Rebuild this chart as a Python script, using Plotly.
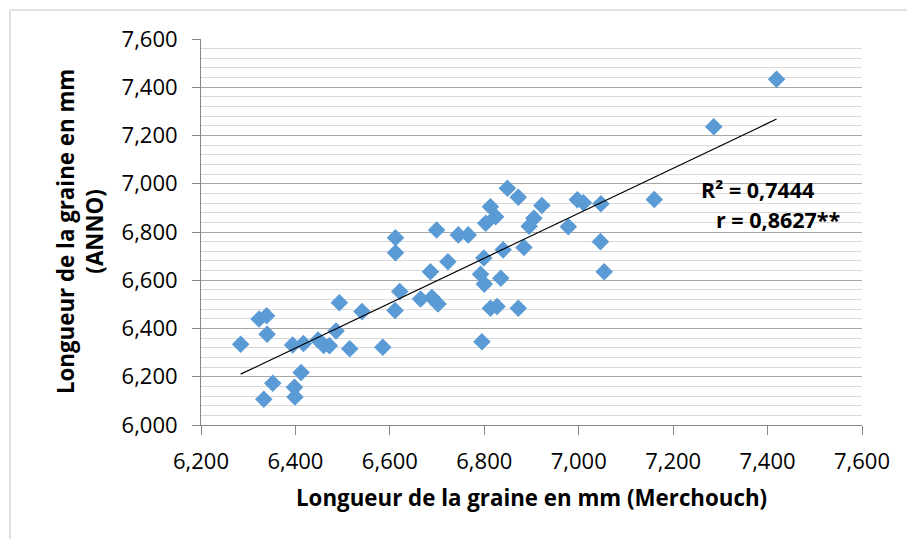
import numpy as np
import plotly.graph_objects as go

# Seed length (mm) measured at the two sites
merchouch = [
    6.284, 6.323, 6.339, 6.340, 6.333, 6.352, 6.398, 6.399, 6.412, 6.394,
    6.417, 6.448, 6.460, 6.472, 6.486, 6.493, 6.515, 6.541, 6.585, 6.611,
    6.621, 6.612, 6.612, 6.699, 6.723, 6.686, 6.745, 6.766, 6.665, 6.689,
    6.702, 6.795, 6.799, 6.792, 6.800, 6.835, 6.813, 6.827, 6.872, 6.840,
    6.884, 6.803, 6.824, 6.813, 6.849, 6.872, 6.895, 6.905, 6.922, 6.978,
    6.997, 7.010, 7.047, 7.046, 7.054, 7.160, 7.286, 7.419,
]
anno = [
    6.335, 6.439, 6.453, 6.376, 6.107, 6.173, 6.156, 6.116, 6.218, 6.332,
    6.338, 6.352, 6.330, 6.329, 6.390, 6.507, 6.316, 6.470, 6.322, 6.475,
    6.553, 6.776, 6.714, 6.808, 6.677, 6.635, 6.788, 6.788, 6.522, 6.528,
    6.502, 6.345, 6.692, 6.625, 6.584, 6.608, 6.484, 6.491, 6.484, 6.726,
    6.736, 6.836, 6.863, 6.905, 6.981, 6.944, 6.824, 6.857, 6.910, 6.822,
    6.934, 6.921, 6.917, 6.760, 6.635, 6.935, 7.236, 7.433,
]

r2_label = "R² = 0,7444"
r_label = "r = 0,8627**"

x_ticks = [6.2, 6.4, 6.6, 6.8, 7.0, 7.2, 7.4, 7.6]
y_ticks = [6.0, 6.2, 6.4, 6.6, 6.8, 7.0, 7.2, 7.4, 7.6]

x = np.array(merchouch)
y = np.array(anno)

# Least-squares linear trend
slope, intercept = np.polyfit(x, y, 1)
trend_x = np.array([x.min(), x.max()])
trend_y = intercept + slope * trend_x

FONT = "Open Sans"


def fmt(v):
    # Axis numbers printed with a comma and three decimals: 6.2 -> "6,200"
    m = int(round(v * 1000))
    return f"{m // 1000},{m % 1000:03d}"


fig = go.Figure()
fig.add_trace(go.Scatter(
    x=merchouch, y=anno, mode="markers",
    marker=dict(symbol="diamond", size=13.5, color="#5B9BD5", line=dict(width=0)),
    showlegend=False, hoverinfo="x+y",
))
fig.add_trace(go.Scatter(
    x=trend_x, y=trend_y, mode="lines",
    line=dict(color="black", width=1.2),
    showlegend=False, hoverinfo="skip",
))

fig.update_xaxes(
    range=[6.2, 7.6], tickvals=x_ticks, ticktext=[fmt(v) for v in x_ticks],
    showgrid=False, zeroline=False,
    showline=True, linecolor="#868686", linewidth=1,
    ticks="outside", ticklen=9, tickcolor="#868686", tickwidth=1,
    ticklabelstandoff=8,
    tickfont=dict(family=FONT, size=22, color="black"),
)
fig.update_yaxes(
    range=[6.0, 7.6], tickvals=y_ticks, ticktext=[fmt(v) for v in y_ticks],
    showgrid=True, gridcolor="#A6A6A6", gridwidth=1, zeroline=False,
    showline=True, linecolor="#868686", linewidth=1,
    ticks="outside", ticklen=8, tickcolor="#868686", tickwidth=1,
    ticklabelstandoff=10,
    tickfont=dict(family=FONT, size=22, color="black"),
    minor=dict(dtick=0.04, tick0=6.0, showgrid=True, gridcolor="#D9D9D9", gridwidth=1),
)

fig.add_annotation(
    xref="paper", yref="paper", x=0.5, y=-0.189, xanchor="center", yanchor="middle",
    text="<b>Longueur de la graine en mm (Merchouch)</b>", showarrow=False,
    font=dict(family=FONT, size=22.3, color="black"),
)
fig.add_annotation(
    xref="paper", yref="paper", x=-0.183, y=0.5, xanchor="center", yanchor="middle",
    textangle=-90, text="<b>Longueur de la graine en mm<br>(ANNO)</b>", showarrow=False,
    font=dict(family=FONT, size=22.3, color="black"),
)
# Correlation statistics next to the trend line
fig.add_annotation(
    xref="paper", yref="paper", x=0.754, y=(425 - 189) / 386, xanchor="left", yanchor="middle",
    text=f"<b>{r2_label}</b>", showarrow=False,
    font=dict(family=FONT, size=21.5, color="black"),
)
fig.add_annotation(
    xref="paper", yref="paper", x=0.776, y=(425 - 219.5) / 386, xanchor="left", yanchor="middle",
    text=f"<b>{r_label}</b>", showarrow=False,
    font=dict(family=FONT, size=21.5, color="black"),
)

# Chart-area border (left and top edges visible)
fig.add_shape(
    type="rect", xref="paper", yref="paper",
    x0=(10 - 201) / 661, x1=(920 - 201) / 661,
    y0=(425 - 560) / 386, y1=(425 - 10) / 386,
    line=dict(color="#D9D9D9", width=1.5), fillcolor="rgba(0,0,0,0)", layer="below",
)

fig.update_layout(
    width=907, height=539,
    margin=dict(l=201, r=45, t=39, b=114),
    paper_bgcolor="white", plot_bgcolor="white",
    font=dict(family=FONT, color="black"),
)

fig.write_html("out.html")
